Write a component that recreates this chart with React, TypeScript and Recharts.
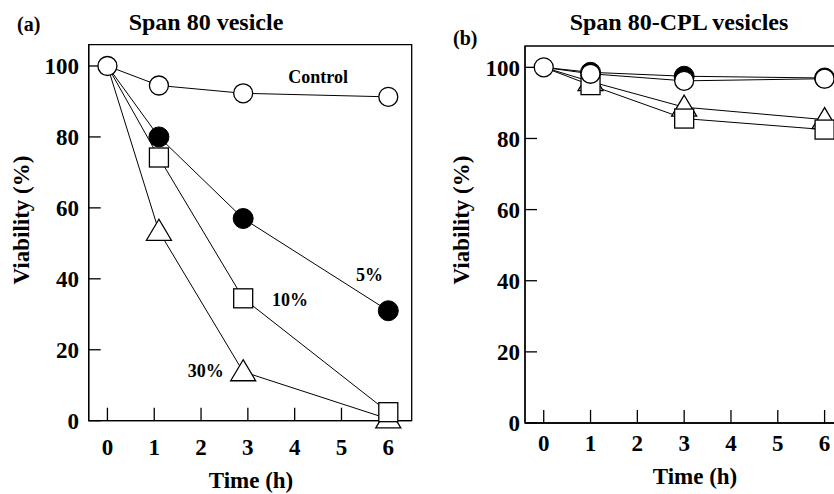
import React from 'react';
import { LineChart, Line, XAxis, YAxis, ReferenceArea, ReferenceDot } from 'recharts';

// time points (h)
const timesA = [0, 1.1, 2.9, 6];
const timesB = [0, 1, 3, 6];

// viability (%) - Span 80 vesicle
const controlA = [100, 94.5, 92.3, 91.3];
const fivePctA = [100, 80, 57, 31];
const tenPctA = [100, 74.2, 34.5, 2.4];
const thirtyPctA = [100, 53.4, 13.8, 0.5];

// viability (%) - Span 80-CPL vesicles
const controlB = [100, 98.2, 96.2, 96.8];
const fivePctB = [100, 98.6, 97.5, 97];
const tenPctB = [100, 95, 85.6, 82.5];
const thirtyPctB = [100, 96, 88.8, 85.3];

const xTicks = [0, 1, 2, 3, 4, 5, 6];
const yTicks = [0, 20, 40, 60, 80, 100];

const notesA = [
  { text: 'Control', t: 4.5, v: 97 },
  { text: '5%', t: 5.6, v: 41.2 },
  { text: '10%', t: 3.9, v: 34.1 },
  { text: '30%', t: 2.1, v: 14 },
];

const FONT = "'Liberation Serif', 'Times New Roman', serif";
const X_DOMAIN: [number, number] = [-0.4, 6.5];
const Y_DOMAIN: [number, number] = [0, 106];

type Mark = 'circle' | 'disc' | 'square' | 'triangle';
type Series = { key: string; mark: Mark };

const control: Series = { key: 'control', mark: 'circle' };
const treated: Series[] = [
  { key: 'p30', mark: 'triangle' },
  { key: 'p10', mark: 'square' },
  { key: 'p5', mark: 'disc' },
];

// the t=0 point is shared by all series, only the control circle is drawn there
const renderMark = (mark: Mark) => (props: any) => {
  const { cx, cy, index } = props;
  const key = `${mark}-${index}`;
  if (cx == null || cy == null) return <g key={key} />;
  if (mark !== 'circle' && index === 0) return <g key={key} />;
  if (mark === 'circle')
    return <circle key={key} cx={cx} cy={cy} r={9.5} fill="#fff" stroke="#000" strokeWidth={1.3} />;
  if (mark === 'disc') return <circle key={key} cx={cx} cy={cy} r={10} fill="#000" stroke="#000" />;
  if (mark === 'square')
    return (
      <rect key={key} x={cx - 9.5} y={cy - 9.5} width={19} height={19} fill="#fff" stroke="#000" strokeWidth={1.3} />
    );
  return (
    <polygon
      key={key}
      points={`${cx},${cy - 12} ${cx - 12.5},${cy + 9} ${cx + 12.5},${cy + 9}`}
      fill="#fff"
      stroke="#000"
      strokeWidth={1.3}
    />
  );
};

interface PanelProps {
  left: number;
  rows: any[];
  top: number;
  yAxisWidth: number;
  xAxisHeight: number;
  right: number;
  yTickMargin: number;
  xTickMargin: number;
  controlFirst?: boolean;
  notes?: { text: string; t: number; v: number }[];
}

const tickStyle = { fill: '#000', fontFamily: FONT, fontWeight: 'bold', fontSize: 23 };

const Panel: React.FC<PanelProps> = ({
  left,
  rows,
  top,
  yAxisWidth,
  xAxisHeight,
  right,
  yTickMargin,
  xTickMargin,
  controlFirst,
  notes,
}) => {
  const order = controlFirst ? [control, ...treated] : [...treated, control];
  return (
    <div style={{ position: 'absolute', left, top: 0 }}>
      <LineChart width={430} height={494} data={rows} margin={{ top, right, bottom: 0, left: 0 }}>
        <XAxis
          dataKey="t"
          type="number"
          domain={X_DOMAIN}
          ticks={xTicks}
          interval={0}
          height={xAxisHeight}
          tickSize={-13}
          tickMargin={xTickMargin}
          tick={tickStyle}
          axisLine={{ stroke: '#000', strokeWidth: 1.3 }}
          tickLine={{ stroke: '#000', strokeWidth: 1.3 }}
        />
        <YAxis
          type="number"
          domain={Y_DOMAIN}
          ticks={yTicks}
          interval={0}
          width={yAxisWidth}
          tickSize={-12}
          tickMargin={yTickMargin}
          tick={tickStyle}
          axisLine={{ stroke: '#000', strokeWidth: 1.3 }}
          tickLine={{ stroke: '#000', strokeWidth: 1.3 }}
        />
        <ReferenceArea
          x1={X_DOMAIN[0]}
          x2={X_DOMAIN[1]}
          y1={Y_DOMAIN[0]}
          y2={Y_DOMAIN[1]}
          fill="none"
          fillOpacity={0}
          stroke="#000"
          strokeWidth={1.3}
        />
        {order.map((s) => (
          <Line
            key={s.key}
            dataKey={s.key}
            type="linear"
            stroke="#000"
            strokeWidth={1}
            dot={renderMark(s.mark)}
            activeDot={false}
            isAnimationActive={false}
          />
        ))}
        {(notes || []).map((n) => (
          <ReferenceDot
            key={n.text}
            x={n.t}
            y={n.v}
            r={0}
            fill="none"
            stroke="none"
            label={{ value: n.text, position: 'center', fill: '#000', fontFamily: FONT, fontWeight: 'bold', fontSize: 18 }}
          />
        ))}
      </LineChart>
    </div>
  );
};

const makeRows = (t: number[], c: number[], p5: number[], p10: number[], p30: number[]) =>
  t.map((tt, i) => ({ t: tt, control: c[i], p5: p5[i], p10: p10[i], p30: p30[i] }));

const textStyle = { fontFamily: FONT, fontWeight: 'bold' as const, fill: '#000' };

export default function App() {
  const rowsA = makeRows(timesA, controlA, fivePctA, tenPctA, thirtyPctA);
  const rowsB = makeRows(timesB, controlB, fivePctB, tenPctB, thirtyPctB);
  return (
    <div style={{ position: 'fixed', left: 0, top: 0, width: 834, height: 494, overflow: 'hidden', background: '#fff' }}>
      <Panel
        left={0}
        rows={rowsA}
        top={44.7}
        yAxisWidth={88.7}
        xAxisHeight={73.3}
        right={18.3}
        yTickMargin={21.7}
        xTickMargin={31.3}
        controlFirst
        notes={notesA}
      />
      <Panel left={440} rows={rowsB} top={46} yAxisWidth={85} xAxisHeight={71} right={22} yTickMargin={17} xTickMargin={25} />
      <svg width={834} height={494} style={{ position: 'absolute', left: 0, top: 0, pointerEvents: 'none' }}>
        <text x={17} y={31} fontSize={20} {...textStyle}>(a)</text>
        <text x={206} y={30} fontSize={24} textAnchor="middle" {...textStyle}>Span 80 vesicle</text>
        <text x={453} y={45} fontSize={20} {...textStyle}>(b)</text>
        <text x={679} y={30} fontSize={24} textAnchor="middle" {...textStyle}>Span 80-CPL vesicles</text>
        <text x={29} y={220} fontSize={23} textAnchor="middle" transform="rotate(-90 29 220)" {...textStyle}>Viability (%)</text>
        <text x={469} y={220} fontSize={23} textAnchor="middle" transform="rotate(-90 469 220)" {...textStyle}>Viability (%)</text>
        <text x={251} y={488} fontSize={23} textAnchor="middle" {...textStyle}>Time (h)</text>
        <text x={695} y={484} fontSize={23} textAnchor="middle" {...textStyle}>Time (h)</text>
      </svg>
    </div>
  );
}
